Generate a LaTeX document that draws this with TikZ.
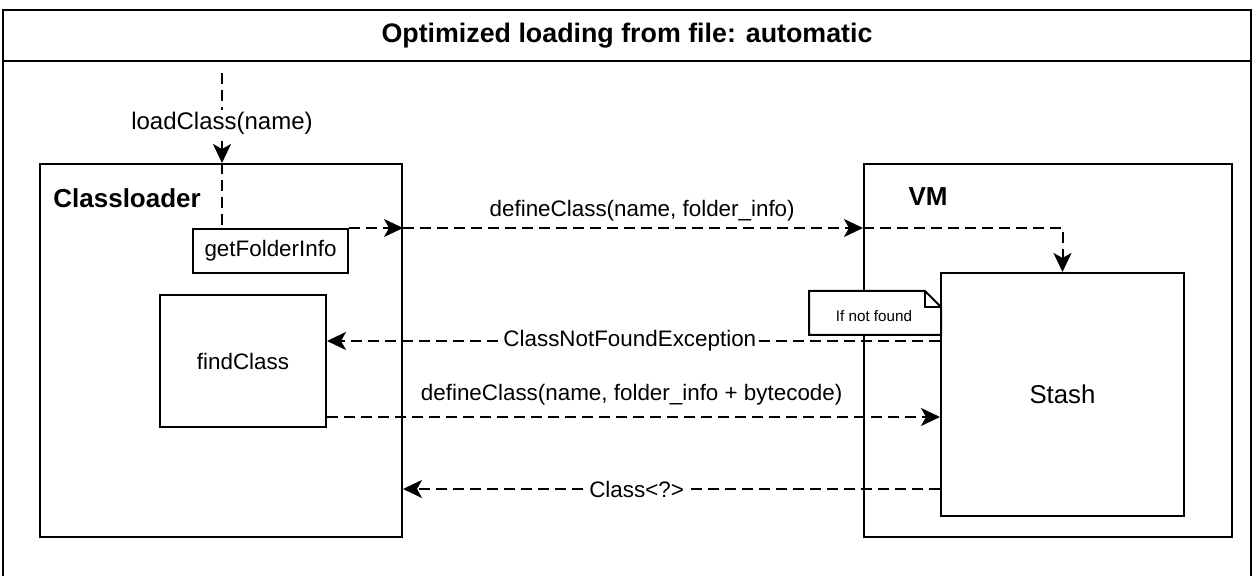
\documentclass[tikz,border=0pt]{standalone}
\usepackage{fontspec}
\setmainfont{Liberation Sans}
\usetikzlibrary{arrows.meta}
\begin{document}
\begin{tikzpicture}[x=0.5pt,y=-0.5pt,
  box/.style={draw=black,line width=1pt,fill=white,inner sep=0pt,font=\fontsize{11.2}{13}\selectfont},
  dl/.style={line width=1pt,dash pattern=on 5.5pt off 3pt},
  arr/.style={-{Stealth[length=9.5pt,width=9pt,inset=2.5pt]}},
  lbl/.style={fill=white,inner sep=0.3pt,font=\fontsize{11.2}{13}\selectfont},
  heading/.style={font=\fontsize{13}{15}\selectfont\bfseries,inner sep=0pt}
]
\useasboundingbox (0,0) rectangle (1254,576);
% outer frame
\draw[line width=1pt] (3,576) -- (3,10) -- (1251,10) -- (1251,576);
\draw[line width=1pt] (3,61) -- (1251,61);
\node[font=\fontsize{13.4}{15}\selectfont\bfseries] (title) at (627,36) {Optimized loading from file: automatic};

% containers
\node[box,minimum width=181pt,minimum height=186.5pt] (cl) at (221,350.5) {};
\node[box,minimum width=184pt,minimum height=186.5pt] (vm) at (1048,350.5) {};
\node[heading,anchor=west] (cllbl) at (53,198) {Classloader};
\node[heading] (vmlbl) at (928,197) {VM};

% inner boxes
\node[box,minimum width=77.5pt,minimum height=22pt] (gfi) at (270.5,251) {getFolderInfo};
\node[box,minimum width=83pt,minimum height=66pt] (fc) at (243,361) {findClass};
\node[box,minimum width=121.5pt,minimum height=121.5pt,font=\fontsize{12.9}{15}\selectfont] (stash) at (1062.5,394.5) {Stash};

% note
\draw[line width=1pt,fill=white] (809,291) -- (925,291) -- (941,307) -- (941,335) -- (809,335) -- cycle;
\draw[line width=1pt] (925,291) -- (925,307) -- (941,307);
\node[font=\fontsize{7.6}{9}\selectfont,inner sep=0pt] (note) at (874,316) {If not found};

% coordinates
\coordinate (ls) at (222,73);
\coordinate (y1) at (0,341);
\coordinate (y2) at (0,417);
\coordinate (y3) at (0,489);

% loadClass
\draw[dl,arr] (ls) -- (ls |- cl.north)
  node[lbl,inner sep=1pt,pos=0.56,font=\fontsize{12}{14}\selectfont] {loadClass(name)};
\draw[dl] (ls |- cl.north) -- (ls |- gfi.north);

% defineClass (folder info)
\draw[dl,arr] (gfi.north east) -- (cl.east |- gfi.north);
\draw[dl,arr] (cl.east |- gfi.north) -- (vm.west |- gfi.north)
  node[lbl,pos=0.52,yshift=8.5pt,fill=none] {defineClass(name, folder\_info)};
\draw[dl,arr] (vm.west |- gfi.north) -- (stash.north |- gfi.north) -- (stash.north);

% ClassNotFoundException
\draw[dl,arr] (stash.west |- y1) -- (fc.east |- y1)
  node[lbl,pos=0.506] {ClassNotFoundException};

% defineClass (bytecode)
\draw[dl,arr] (fc.east |- y2) -- (stash.west |- y2)
  node[lbl,pos=0.497,yshift=11pt,fill=none] {defineClass(name, folder\_info + bytecode)};

% Class<?>
\draw[dl,arr] (stash.west |- y3) -- (cl.east |- y3)
  node[lbl,pos=0.565] {Class<?>};
\end{tikzpicture}
\end{document}
